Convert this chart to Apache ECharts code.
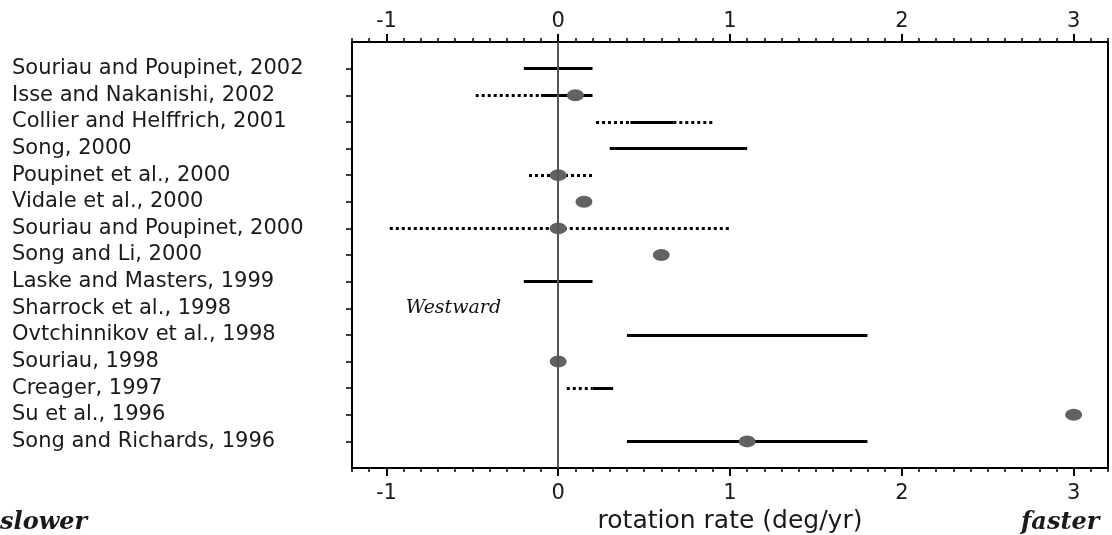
<!DOCTYPE html>
<html>
<head>
<meta charset="utf-8">
<script src="https://cdn.jsdelivr.net/npm/echarts@6/dist/echarts.min.js"></script>
<style>
  html, body { margin: 0; padding: 0; background: #fff; }
  #chart { width: 1112px; height: 535px; }
</style>
</head>
<body>
<div id="chart"></div>
<script>
// studies, top to bottom
const studies = [
  'Souriau and Poupinet, 2002',
  'Isse and Nakanishi, 2002',
  'Collier and Helffrich, 2001',
  'Song, 2000',
  'Poupinet et al., 2000',
  'Vidale et al., 2000',
  'Souriau and Poupinet, 2000',
  'Song and Li, 2000',
  'Laske and Masters, 1999',
  'Sharrock et al., 1998',
  'Ovtchinnikov et al., 1998',
  'Souriau, 1998',
  'Creager, 1997',
  'Su et al., 1996',
  'Song and Richards, 1996'
]

// solid ranges [study, from, to] (deg/yr)
const solidRanges = [
  ['Souriau and Poupinet, 2002', -0.2, 0.2],
  ['Isse and Nakanishi, 2002', -0.1, 0.2],
  ['Collier and Helffrich, 2001', 0.42, 0.67],
  ['Song, 2000', 0.3, 1.1],
  ['Laske and Masters, 1999', -0.2, 0.2],
  ['Ovtchinnikov et al., 1998', 0.4, 1.8],
  ['Creager, 1997', 0.2, 0.32],
  ['Song and Richards, 1996', 0.4, 1.8]
]

// dotted ranges [study, from, to]
const dottedRanges = [
  ['Isse and Nakanishi, 2002', -0.48, -0.1],
  ['Collier and Helffrich, 2001', 0.22, 0.42],
  ['Collier and Helffrich, 2001', 0.67, 0.9],
  ['Poupinet et al., 2000', -0.17, 0.2],
  ['Souriau and Poupinet, 2000', -0.98, 1.0],
  ['Creager, 1997', 0.05, 0.2]
]

// preferred values [study, rate]
const bestValues = [
  ['Isse and Nakanishi, 2002', 0.1],
  ['Poupinet et al., 2000', 0],
  ['Vidale et al., 2000', 0.15],
  ['Souriau and Poupinet, 2000', 0],
  ['Song and Li, 2000', 0.6],
  ['Souriau, 1998', 0],
  ['Su et al., 1996', 3.0],
  ['Song and Richards, 1996', 1.1]
]

// x axis tick labels
const majorTicks = [-1, 0, 1, 2, 3]
const minorTicks = []
for (let i = -12; i <= 32; i++) minorTicks.push(+(i / 10).toFixed(1))

const rowOf = name => studies.indexOf(name) + 1
const rowTicks = studies.map((s, i) => i + 1)

const toLines = list => list.map(d => ({ coords: [[d[1], rowOf(d[0])], [d[2], rowOf(d[0])]] }))

const X_MIN = -1.2
const X_MAX = 3.2
const SANS = 'DejaVu Sans, Verdana, sans-serif'
const SERIF = '"DejaVu Serif", "Liberation Serif", serif'

const xAxisBase = (position, major) => ({
  type: 'value',
  position,
  min: X_MIN,
  max: X_MAX,
  splitLine: { show: false },
  axisLine: { show: major, onZero: false, lineStyle: { color: '#000', width: 2 } },
  axisTick: {
    show: true,
    inside: false,
    length: major ? 8 : 4,
    customValues: major ? majorTicks : minorTicks,
    lineStyle: { color: '#000', width: major ? 2 : 1.5 }
  },
  axisLabel: {
    show: major,
    customValues: majorTicks,
    margin: position === 'top' ? 10 : 15,
    fontFamily: SANS,
    fontSize: 21,
    color: '#1a1a1a'
  }
})

const yAxisBase = (position) => ({
  type: 'value',
  inverse: true,
  min: 0,
  max: 16,
  position,
  splitLine: { show: false },
  axisLine: { show: true, onZero: false, lineStyle: { color: '#000', width: 2 } },
  axisTick: { show: position === 'left', length: 6, customValues: rowTicks, lineStyle: { color: '#000', width: 1.5 } },
  axisLabel: {
    show: position === 'left',
    customValues: rowTicks,
    align: 'left',
    margin: 340,
    formatter: v => studies[v - 1] || '',
    fontFamily: SANS,
    fontSize: 21,
    color: '#1a1a1a'
  }
})

const chart = echarts.init(document.getElementById('chart'))

chart.setOption({
  animation: false,
  backgroundColor: '#fff',
  grid: { left: 352, right: 4, top: 42, bottom: 67, outerBoundsMode: 'none', containLabel: false },
  xAxis: [
    {
      ...xAxisBase('bottom', true),
      name: 'rotation rate (deg/yr)',
      nameLocation: 'middle',
      nameGap: 41,
      nameTextStyle: { fontFamily: SANS, fontSize: 25, color: '#1a1a1a' }
    },
    xAxisBase('bottom', false),
    xAxisBase('top', true),
    xAxisBase('top', false)
  ],
  yAxis: [yAxisBase('left'), yAxisBase('right')],
  graphic: [
    {
      type: 'text', left: 0, top: 511,
      style: { text: 'slower', font: 'italic bold 24px ' + SERIF, fill: '#1a1a1a' }
    },
    {
      type: 'text', left: 1021, top: 511,
      style: { text: 'faster', font: 'italic bold 24px ' + SERIF, fill: '#1a1a1a' }
    }
  ],
  series: [
    {
      type: 'lines',
      coordinateSystem: 'cartesian2d',
      xAxisIndex: 0,
      yAxisIndex: 0,
      polyline: false,
      silent: true,
      lineStyle: { color: '#000', width: 3, type: [3, 3], cap: 'butt', opacity: 1 },
      data: toLines(dottedRanges),
      markLine: {
        silent: true,
        symbol: 'none',
        label: { show: false },
        lineStyle: { color: '#555', width: 2, type: 'solid' },
        data: [{ xAxis: 0 }]
      },
      z: 2
    },
    {
      type: 'lines',
      coordinateSystem: 'cartesian2d',
      xAxisIndex: 0,
      yAxisIndex: 0,
      polyline: false,
      silent: true,
      lineStyle: { color: '#000', width: 3, type: 'solid', opacity: 1 },
      data: toLines(solidRanges),
      z: 3
    },
    {
      type: 'scatter',
      xAxisIndex: 0,
      yAxisIndex: 0,
      symbol: 'circle',
      symbolSize: [17, 12],
      itemStyle: { color: '#626262', opacity: 1 },
      data: bestValues.map(d => [d[1], rowOf(d[0])]),
      z: 4
    },
    {
      type: 'scatter',
      xAxisIndex: 0,
      yAxisIndex: 0,
      symbolSize: 0,
      silent: true,
      itemStyle: { opacity: 1 },
      data: [[-0.61, rowOf('Sharrock et al., 1998')]],
      label: {
        show: true,
        position: 'inside',
        formatter: 'Westward',
        fontFamily: SERIF,
        fontStyle: 'italic',
        fontSize: 19,
        color: '#111'
      }
    }
  ]
})
</script>
</body>
</html>
